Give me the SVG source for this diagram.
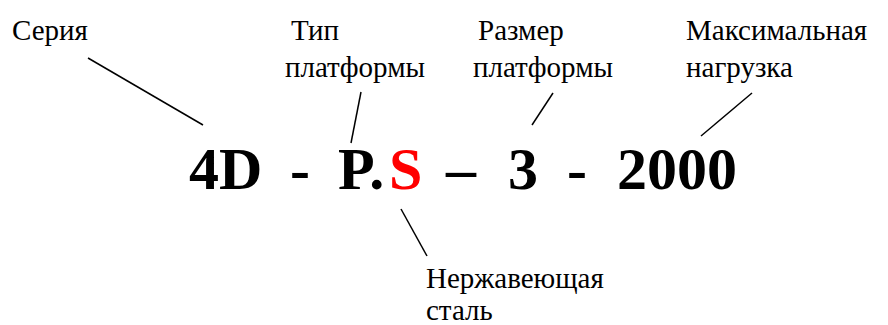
<svg xmlns="http://www.w3.org/2000/svg" width="888" height="325" viewBox="0 0 888 325">
<style>
.lbl{font-family:'Liberation Serif','Times New Roman',serif;font-size:29px;fill:#000}
.big{font-family:'Liberation Serif','Times New Roman',serif;font-size:60px;font-weight:bold;fill:#000}
.red{fill:#ff0000}
.ln{stroke:#000;stroke-width:1.5;fill:none}
</style>
<rect width="888" height="325" fill="#fff"/>
<g id="code">
<text class="big" y="189"><tspan x="189">4D</tspan><tspan x="290">-</tspan><tspan x="338">P.</tspan><tspan class="red" x="389">S</tspan><tspan x="446">–</tspan><tspan x="508">3</tspan><tspan x="567">-</tspan><tspan x="617">2000</tspan></text>
</g>
<g id="seriya"><text class="lbl" x="12" y="40">Серия</text></g>
<g id="tip"><text class="lbl" y="40"><tspan x="291">Тип</tspan><tspan x="285" y="77">платформы</tspan></text></g>
<g id="razmer"><text class="lbl" y="40"><tspan x="478">Размер</tspan><tspan x="473" y="77">платформы</tspan></text></g>
<g id="nagruzka"><text class="lbl" y="40"><tspan x="686">Максимальная</tspan><tspan x="686" y="77">нагрузка</tspan></text></g>
<g id="stal"><text class="lbl" y="288"><tspan x="426">Нержавеющая</tspan><tspan x="426" y="320">сталь</tspan></text></g>
<g id="connectors">
<line class="ln" x1="88" y1="58" x2="203" y2="125"/>
<line class="ln" x1="361" y1="92" x2="351" y2="143"/>
<line class="ln" x1="553" y1="93" x2="532" y2="125"/>
<line class="ln" x1="752" y1="93" x2="701" y2="136"/>
<line class="ln" x1="401" y1="209" x2="427" y2="256"/>
</g>
</svg>
